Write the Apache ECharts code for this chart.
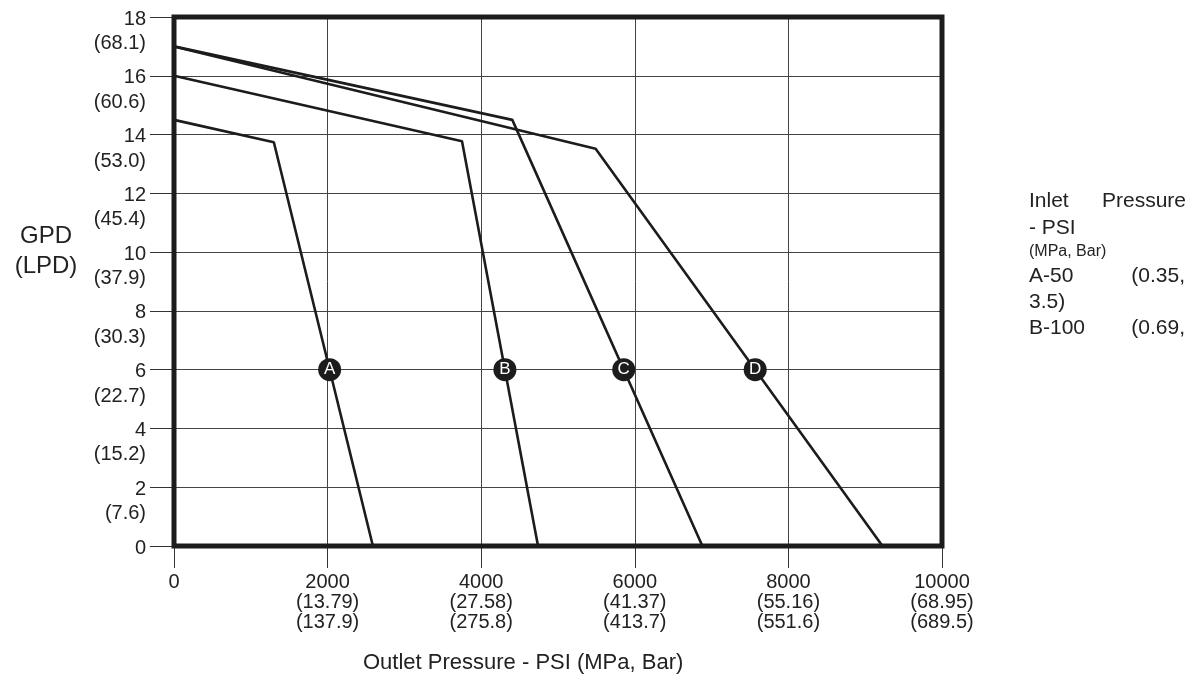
<!DOCTYPE html>
<html><head><meta charset="utf-8">
<script src="https://cdn.jsdelivr.net/npm/echarts@6/dist/echarts.min.js"></script>
<style>html,body{margin:0;padding:0;background:#fff}#c{width:1200px;height:679px}</style>
</head><body><div id="c"></div>
<script>
// ---- data ----
const xTicks = [0, 2000, 4000, 6000, 8000, 10000];
const xMpa = ['', '(13.79)', '(27.58)', '(41.37)', '(55.16)', '(68.95)'];
const xBar = ['', '(137.9)', '(275.8)', '(413.7)', '(551.6)', '(689.5)'];
const yTicks = [0, 2, 4, 6, 8, 10, 12, 14, 16, 18];
const yLpd = ['', '(7.6)', '(15.2)', '(22.7)', '(30.3)', '(37.9)', '(45.4)', '(53.0)', '(60.6)', '(68.1)'];
const curveNames = ['A', 'B', 'C', 'D'];
const curveA = [[0, 14.5], [1300, 13.74], [2590, 0]];
const curveB = [[0, 16.0], [3750, 13.77], [4740, 0]];
const curveC = [[0, 17.0], [4405, 14.5], [6880, 0]];
const curveD = [[0, 17.0], [5490, 13.52], [9225, 0]];
const markerY = 6;
const legendLines = ['Inlet  Pressure', '- PSI', '(MPa, Bar)', 'A-50', '3.5)', 'B-100'];
const legendRight = ['', '', '', '(0.35,', '', '(0.69,'];

const curves = [curveA, curveB, curveC, curveD];
const FONT = '"Liberation Sans", Arial, sans-serif';
const INK = '#1c1c1c';

function crossAt(pts, y) {
  for (let i = 0; i < pts.length - 1; i++) {
    const [x0, y0] = pts[i], [x1, y1] = pts[i + 1];
    if ((y0 - y) * (y1 - y) <= 0 && y0 !== y1) {
      return x0 + (x1 - x0) * (y0 - y) / (y0 - y1);
    }
  }
  return null;
}
const markers = curves.map((c, i) => ({ value: [crossAt(c, markerY), markerY], name: curveNames[i] }));

const chart = echarts.init(document.getElementById('c'), null, { renderer: 'canvas' });

const series = curves.map((c, i) => ({
  type: 'line', name: curveNames[i], data: c, symbol: 'none',
  lineStyle: { color: INK, width: 2.6 }, z: 3, animation: false
}));
series.push({
  type: 'scatter', data: markers, symbol: 'circle', symbolSize: 23, z: 5,
  itemStyle: { color: INK, opacity: 1 },
  emphasis: { disabled: true },
  label: { show: true, position: 'inside', formatter: p => p.name, color: '#fff', fontSize: 17, fontFamily: FONT },
  animation: false
});

const legendTexts = [];
const legendY = [201, 228, 252, 276, 302, 328];
legendLines.forEach((t, i) => {
  if (i === 0) {
    legendTexts.push({ type: 'text', x: 1029, y: legendY[i], style: { text: 'Inlet', font: '21px ' + FONT, fill: '#222', textVerticalAlign: 'middle' } });
    legendTexts.push({ type: 'text', x: 1186, y: legendY[i], style: { text: 'Pressure', font: '21px ' + FONT, fill: '#222', textAlign: 'right', textVerticalAlign: 'middle' } });
    return;
  }
  legendTexts.push({ type: 'text', x: 1029, y: legendY[i],
    style: { text: t, font: (i === 2 ? '16px ' : '21px ') + FONT, fill: '#222', textVerticalAlign: 'middle' } });
  if (legendRight[i]) {
    legendTexts.push({ type: 'text', x: 1185, y: legendY[i],
      style: { text: legendRight[i], font: '21px ' + FONT, fill: '#222', textAlign: 'right', textVerticalAlign: 'middle' } });
  }
});

chart.setOption({
  animation: false,
  backgroundColor: '#fff',
  grid: { left: 174, right: 258, top: 17, bottom: 133, show: false },
  xAxis: {
    type: 'value', min: 0, max: 10000, interval: 2000,
    axisLine: { show: false },
    axisTick: { show: true, inside: false, length: 22, lineStyle: { color: '#333', width: 1 } },
    splitLine: { show: true, lineStyle: { color: '#444', width: 1 } },
    axisLabel: {
      margin: 26, color: '#222', fontSize: 20, fontFamily: FONT, lineHeight: 20,
      showMinLabel: true, showMaxLabel: true, hideOverlap: false,
      formatter: v => { const i = xTicks.indexOf(v); return i <= 0 ? String(v) : v + '\n' + xMpa[i] + '\n' + xBar[i]; }
    }
  },
  yAxis: {
    type: 'value', min: 0, max: 18, interval: 2,
    axisLine: { show: false },
    axisTick: { show: true, inside: false, length: 24, lineStyle: { color: '#333', width: 1 } },
    splitLine: { show: true, lineStyle: { color: '#444', width: 1 } },
    axisLabel: {
      margin: 28, color: '#222', fontSize: 20, fontFamily: FONT, verticalAlign: 'top',
      showMinLabel: true, showMaxLabel: true, hideOverlap: false,
      rich: {
        a: { fontSize: 20, fontFamily: FONT, color: '#222', lineHeight: 4, align: 'right' },
        b: { fontSize: 20, fontFamily: FONT, color: '#222', lineHeight: 45, align: 'right' }
      },
      formatter: v => { const i = yTicks.indexOf(v); return yLpd[i] ? '{a|' + v + '}\n{b|' + yLpd[i] + '}' : '{a|' + v + '}'; }
    }
  },
  graphic: [
    { type: 'text', x: 46, y: 236, style: { text: 'GPD', font: '24px ' + FONT, fill: '#222', textAlign: 'center', textVerticalAlign: 'middle' } },
    { type: 'text', x: 46, y: 266, style: { text: '(LPD)', font: '24px ' + FONT, fill: '#222', textAlign: 'center', textVerticalAlign: 'middle' } },
    { type: 'text', x: 363, y: 663, style: { text: 'Outlet Pressure - PSI (MPa, Bar)', font: '22px ' + FONT, fill: '#222', textAlign: 'left', textVerticalAlign: 'middle' } }
  ].concat(legendTexts),
  series: series
});

// thick frame around the plot area, from the axis scales
const p0 = chart.convertToPixel({ gridIndex: 0 }, [xTicks[0], yTicks[yTicks.length - 1]]);
const p1 = chart.convertToPixel({ gridIndex: 0 }, [xTicks[xTicks.length - 1], yTicks[0]]);
chart.setOption({
  graphic: [{ id: 'frame', type: 'rect', z: 10,
    shape: { x: p0[0], y: p0[1], width: p1[0] - p0[0], height: p1[1] - p0[1] },
    style: { fill: 'none', stroke: INK, lineWidth: 5 } }]
});
</script></body></html>
